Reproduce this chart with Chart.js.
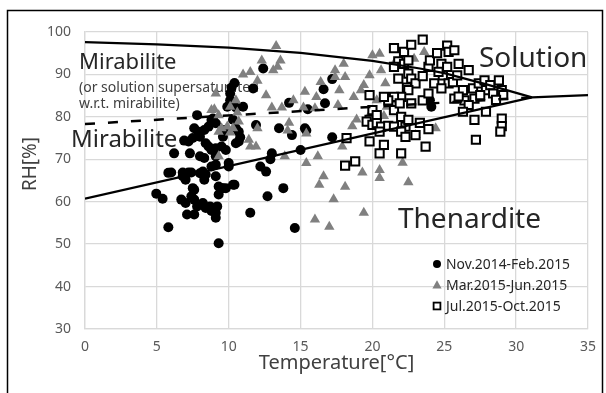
<!DOCTYPE html>
<html>
<head>
<meta charset="utf-8">
<script src="https://cdn.jsdelivr.net/npm/chart.js@4.4.1/dist/chart.umd.min.js"></script>
<style>
  html, body { margin: 0; padding: 0; background: #fff; }
  canvas { display: block; }
</style>
</head>
<body>
<canvas id="phaseChart" width="606" height="393"></canvas>
<script>
// axis ticks
var tempTicks = [0, 5, 10, 15, 20, 25, 30, 35];
var rhTicks = [30, 40, 50, 60, 70, 80, 90, 100];

// series names
var seriesNames = ['Nov.2014-Feb.2015', 'Mar.2015-Jun.2015', 'Jul.2015-Oct.2015'];

// Nov.2014-Feb.2015 (temperature, RH)
var winterT = [4.96, 5.4, 5.8, 6.2, 6.0, 6.9, 7.2, 7.5, 7.3, 6.8, 7.2, 7.4, 6.8, 7.0, 7.5, 7.6, 6.7, 7.0, 7.1, 7.6,
  7.4, 7.6, 7.8, 8.2, 8.4, 8.7, 8.8, 9.1, 9.1, 9.2, 9.3, 7.8, 7.6, 7.9, 8.0, 8.3, 8.6, 8.8, 8.9, 9.1,
  8.4, 8.6, 8.8, 8.0, 8.3, 8.0, 8.2, 8.4, 8.3, 8.8, 9.1, 9.1, 9.1, 9.3, 9.5, 9.8, 9.3, 9.1, 9.5, 9.8,
  10.0, 10.0, 10.3, 9.6, 9.7, 9.9, 10.1, 10.1, 10.2, 10.4, 10.3, 10.5, 10.7, 10.8, 10.7, 10.5, 10.5, 11.0, 11.5, 11.7,
  12.4, 11.9, 12.2, 12.6, 12.7, 13.0, 12.9, 13.5, 13.8, 14.2, 14.4, 14.6, 15.0, 15.3, 15.4, 15.5, 16.6, 16.7, 17.2, 17.2,
  24.0, 24.1, 5.8, 9.6, 10.4];
var winterRH = [61.9, 60.7, 54.0, 71.4, 66.9, 74.4, 74.2, 75.0, 71.4, 66.9, 66.9, 66.9, 66.0, 65.2, 63.2, 62.8, 60.5, 59.7, 57.0, 57.0,
  61.3, 60.5, 58.9, 59.7, 58.5, 58.9, 57.8, 57.4, 56.2, 58.9, 50.2, 80.4, 77.3, 76.5, 75.3, 76.9, 77.7, 79.3, 79.6, 78.5,
  73.8, 73.0, 72.2, 70.7, 70.3, 66.7, 67.1, 66.4, 65.2, 68.3, 68.7, 70.7, 66.0, 63.6, 63.2, 63.2, 61.7, 72.6, 73.0, 72.2,
  69.1, 68.3, 64.0, 75.3, 76.9, 82.4, 83.9, 85.5, 86.9, 88.0, 79.3, 77.3, 76.5, 75.2, 74.2, 73.8, 82.2, 82.4, 57.4, 86.7,
  91.4, 78.1, 68.3, 67.1, 61.3, 71.4, 70.0, 77.3, 63.2, 83.3, 75.7, 53.8, 72.2, 77.3, 76.8, 81.8, 86.5, 83.2, 88.9, 75.2,
  83.9, 82.4, 66.8, 63.2, 64.0];

// Mar.2015-Jun.2015
var springT = [13.3, 13.6, 13.4, 13.1, 12.3, 11.5, 11.0, 9.1, 8.8, 9.0, 9.3, 9.5, 9.9, 10.1, 10.3, 10.7, 10.5, 10.1, 9.3, 9.3,
  11.4, 11.5, 11.9, 12.0, 12.6, 13.0, 13.7, 13.9, 14.2, 14.1, 14.5, 15.2, 15.3, 15.4, 16.4, 16.1, 16.0, 15.4, 16.2, 16.6,
  16.3, 16.0, 17.0, 17.3, 17.4, 17.4, 17.7, 17.6, 18.0, 18.1, 17.9, 18.1, 18.6, 18.7, 18.9, 19.2, 19.4, 19.3, 19.4, 20.0,
  20.5, 19.8, 20.3, 20.6, 20.9, 20.5, 20.5, 21.5, 22.1, 22.5, 22.9, 23.0, 23.6, 21.0, 21.5, 24.4, 19.9, 20.8, 12.0, 10.6];
var springRH = [96.7, 93.3, 91.8, 91.0, 93.3, 90.6, 90.0, 85.5, 81.6, 81.8, 76.5, 77.3, 77.7, 76.3, 77.3, 78.9, 83.9, 82.4, 70.7, 80.4,
  74.6, 73.0, 73.0, 77.3, 85.1, 82.2, 82.2, 70.7, 78.6, 76.8, 83.9, 82.2, 85.9, 76.1, 88.2, 84.7, 82.0, 69.1, 70.7, 66.0,
  64.0, 55.8, 54.1, 60.6, 91.0, 89.4, 86.3, 82.8, 92.5, 89.4, 73.0, 63.5, 77.8, 84.7, 79.4, 86.3, 87.5, 66.9, 57.4, 94.5,
  94.9, 89.8, 83.9, 91.0, 87.9, 67.5, 65.6, 83.9, 69.2, 64.6, 93.7, 75.7, 95.3, 82.4, 92.5, 77.3, 81.0, 80.2, 88.5, 81.0];

// Jul.2015-Oct.2015
var summerT = [21.5, 22.2, 22.7, 23.5, 21.8, 21.5, 22.2, 22.5, 21.8, 22.5, 22.7, 23.0, 22.4, 22.5, 22.0, 21.5, 21.1, 20.8, 19.8, 21.5,
  21.9, 22.7, 23.5, 23.5, 23.9, 24.3, 23.9, 24.0, 24.5, 25.2, 25.3, 25.7, 24.8, 25.2, 24.9, 25.3, 24.8, 25.6, 26.0, 25.9,
  26.3, 26.7, 25.7, 26.4, 27.0, 27.4, 27.8, 27.9, 27.1, 27.5, 28.2, 28.4, 28.8, 29.0, 29.1, 26.7, 26.3, 27.1, 27.9, 29.0,
  29.0, 28.9, 27.2, 19.8, 20.0, 20.3, 19.6, 20.0, 20.3, 20.6, 20.5, 19.8, 21.1, 21.5, 22.0, 22.3, 22.0, 22.5, 22.3, 23.0,
  23.3, 23.9, 23.7, 22.0, 20.8, 20.5, 18.2, 18.1, 18.8, 24.6, 26.0, 28.6];
var summerRH = [96.2, 95.3, 97.0, 98.2, 93.1, 91.8, 92.5, 93.3, 89.0, 90.2, 89.0, 87.9, 86.9, 86.3, 84.7, 84.7, 83.9, 84.7, 85.1, 81.6,
  83.2, 83.2, 89.6, 83.9, 85.5, 87.9, 91.8, 93.3, 95.0, 96.8, 95.3, 95.7, 92.5, 91.8, 89.8, 87.9, 86.7, 88.2, 92.5, 89.8,
  86.3, 91.0, 84.3, 83.9, 86.7, 87.9, 88.6, 86.3, 84.3, 85.1, 87.5, 85.5, 88.6, 86.3, 85.1, 82.8, 81.2, 79.3, 81.2, 79.6,
  77.8, 76.5, 74.6, 79.3, 81.6, 80.4, 78.9, 78.1, 78.5, 77.7, 76.5, 74.2, 77.9, 77.7, 80.0, 77.7, 76.5, 79.3, 75.3, 75.7,
  78.6, 77.1, 73.0, 71.4, 73.4, 71.4, 75.0, 68.5, 69.5, 90.6, 84.8, 84.0];

// phase boundaries
var solutionEdgeT = [0, 5, 10, 15, 20, 23.3, 25, 28, 31.1];
var solutionEdgeRH = [97.6, 97.1, 96.3, 95.1, 93.2, 91.4, 90.3, 87.6, 84.6];
var transitionT = [0, 31.1];
var transitionRH = [60.7, 84.6];
var thenarditeEdgeT = [31.1, 35];
var thenarditeEdgeRH = [84.6, 85.1];
var metastableT = [0, 31.1];
var metastableRH = [78.3, 84.6];

function pairs(xs, ys) {
  return xs.map(function (x, i) { return { x: x, y: ys[i] }; });
}

function boundary(xs, ys, dash) {
  return {
    data: pairs(xs, ys),
    showLine: true,
    borderColor: '#000',
    borderWidth: dash ? 2.5 : 2.2,
    borderDash: dash || [],
    pointRadius: 0,
    fill: false,
    tension: 0,
    order: 1
  };
}

// region names, note and y title, drawn under the points
var regionText = {
  id: 'regionText',
  beforeDatasetsDraw: function (chart) {
    var ctx = chart.ctx;
    ctx.save();
    ctx.textAlign = 'left';
    ctx.textBaseline = 'alphabetic';
    ctx.fillStyle = '#262626';
    ctx.font = '22px "Noto Sans"';
    ctx.fillText('Mirabilite', 79, 69, 101);
    ctx.font = '24px "Noto Sans"';
    ctx.fillText('Mirabilite', 71, 147, 107);
    ctx.font = '28px "Noto Sans"';
    ctx.fillText('Solution', 479, 67, 120);
    ctx.fillText('Thenardite', 398, 228, 151);
    ctx.fillStyle = '#404040';
    ctx.font = '14px "Noto Sans"';
    ctx.fillText('(or solution supersaturated', 79, 92, 191);
    ctx.fillText('w.r.t. mirabilite)', 79, 108, 111);

    ctx.translate(31, 164);
    ctx.rotate(-Math.PI / 2);
    ctx.textAlign = 'center';
    ctx.textBaseline = 'middle';
    ctx.font = '19px "Noto Sans"';
    ctx.fillText('RH[%]', 0, 0);
    ctx.restore();
  }
};

// legend inside the plot, outer frame on top
var overlay = {
  id: 'overlay',
  afterDraw: function (chart) {
    var ctx = chart.ctx;
    ctx.save();
    var rows = [264, 285, 306];
    var mx = 437, tx = 446;
    // circle
    ctx.fillStyle = '#000';
    ctx.beginPath();
    ctx.arc(mx, rows[0], 4, 0, Math.PI * 2);
    ctx.fill();
    // triangle
    ctx.fillStyle = '#808080';
    ctx.beginPath();
    ctx.moveTo(mx, rows[1] - 4.8);
    ctx.lineTo(mx + 4.6, rows[1] + 3.4);
    ctx.lineTo(mx - 4.6, rows[1] + 3.4);
    ctx.closePath();
    ctx.fill();
    // square
    ctx.strokeStyle = '#000';
    ctx.lineWidth = 1.8;
    ctx.fillStyle = '#fff';
    ctx.fillRect(mx - 3.4, rows[2] - 3.4, 6.8, 6.8);
    ctx.strokeRect(mx - 3.4, rows[2] - 3.4, 6.8, 6.8);

    ctx.fillStyle = '#262626';
    ctx.font = '14px "Noto Sans"';
    ctx.textAlign = 'left';
    ctx.textBaseline = 'middle';
    for (var i = 0; i < seriesNames.length; i++) {
      ctx.fillText(seriesNames[i], tx, rows[i] + 1, 124);
    }

    ctx.strokeStyle = '#000';
    ctx.lineWidth = 1.5;
    ctx.strokeRect(7.5, 10.5, 595, 400);
    ctx.restore();
  }
};

new Chart(document.getElementById('phaseChart'), {
  type: 'scatter',
  data: {
    datasets: [
      boundary(solutionEdgeT, solutionEdgeRH),
      boundary(transitionT, transitionRH),
      boundary(thenarditeEdgeT, thenarditeEdgeRH),
      boundary(metastableT, metastableRH, [10, 13]),
      {
        label: seriesNames[2],
        data: pairs(summerT, summerRH),
        pointStyle: 'rect',
        pointRadius: 5.8,
        backgroundColor: '#fff',
        borderColor: '#000',
        borderWidth: 2,
        order: 2
      },
      {
        label: seriesNames[1],
        data: pairs(springT, springRH),
        pointStyle: 'triangle',
        pointRadius: 6,
        backgroundColor: '#808080',
        borderWidth: 0,
        order: 3
      },
      {
        label: seriesNames[0],
        data: pairs(winterT, winterRH),
        pointStyle: 'circle',
        pointRadius: 5,
        backgroundColor: '#000',
        borderWidth: 0,
        order: 4
      }
    ]
  },
  options: {
    responsive: false,
    animation: false,
    devicePixelRatio: 1,
    layout: { padding: { left: 0, right: 17, top: 32, bottom: 0 } },
    plugins: {
      legend: { display: false },
      tooltip: { enabled: false }
    },
    scales: {
      x: {
        type: 'linear',
        min: 0,
        max: 35,
        afterBuildTicks: function (s) { s.ticks = tempTicks.map(function (v) { return { value: v }; }); },
        afterFit: function (s) { s.height = 64; },
        grid: { color: '#d9d9d9', lineWidth: 1.3, drawTicks: false },
        border: { color: '#d9d9d9', width: 1.3 },
        ticks: { color: '#595959', font: { family: 'Noto Sans', size: 14 }, padding: 10, maxRotation: 0 },
        title: {
          display: true,
          text: 'Temperature[°C]',
          color: '#404040',
          font: { family: 'Noto Sans', size: 20 },
          padding: { top: 0, bottom: 18 }
        }
      },
      y: {
        min: 30,
        max: 100,
        afterBuildTicks: function (s) { s.ticks = rhTicks.map(function (v) { return { value: v }; }); },
        afterFit: function (s) { s.width = 85; },
        grid: { color: '#d9d9d9', lineWidth: 1.3, drawTicks: false },
        border: { color: '#d9d9d9', width: 1.3 },
        ticks: { color: '#595959', font: { family: 'Noto Sans', size: 14 }, padding: 14 }
      }
    }
  },
  plugins: [regionText, overlay]
});
</script>
</body>
</html>
